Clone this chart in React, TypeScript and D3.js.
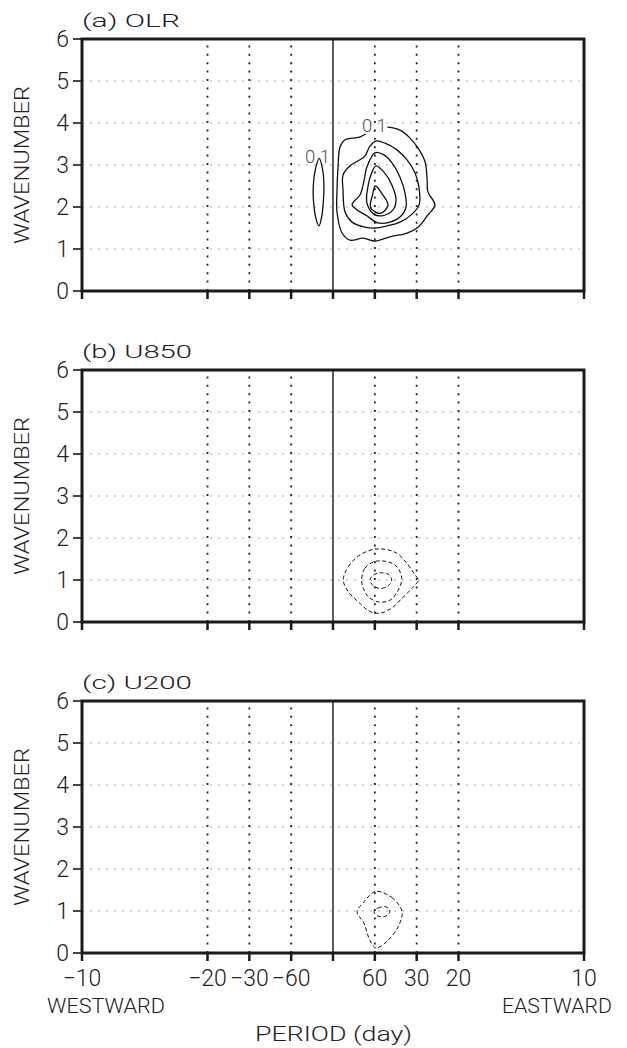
import React from 'react';
import * as d3 from 'd3';

// ---------- data ----------
const wavenumberTicks = [0, 1, 2, 3, 4, 5, 6];
const gridWavenumbers = [1, 2, 3, 4, 5];
const tickPeriods = [-10, -20, -30, -60, 60, 30, 20, 10];
const tickLabels = ['\u221210', '\u221220', '\u221230', '\u221260', '60', '30', '20', '10'];
const gridPeriods = [-20, -30, -60, 60, 30, 20];
const panelTitles = ['(a)  OLR', '(b)  U850', '(c)  U200'];

// contour lines: [frequency (cpd), zonal wavenumber]
const olrEllipse: [number, number][] = [
  [-0.0055, 3.16], [-0.0041, 2.88], [-0.0036, 2.48], [-0.0039, 2.09], [-0.0045, 1.77],
  [-0.0056, 1.55], [-0.0068, 1.73], [-0.0078, 2.17], [-0.0078, 2.56], [-0.0070, 2.9],
];
const olrC1: [number, number][] = [
  [0.0016, 2.4], [0.002, 2.95], [0.0028, 3.43], [0.0048, 3.6], [0.0108, 3.67], [0.0155, 3.83],
  [0.0187, 3.9], [0.0219, 3.9], [0.0267, 3.83], [0.0307, 3.64], [0.0339, 3.4], [0.0367, 3.07],
  [0.0375, 2.64], [0.0378, 2.36], [0.0406, 2.05], [0.0378, 1.81], [0.0339, 1.52], [0.0295, 1.38],
  [0.0227, 1.29], [0.0167, 1.19], [0.012, 1.26], [0.0068, 1.21], [0.0036, 1.38], [0.0016, 1.88],
];
const olrC2: [number, number][] = [
  [0.004, 2.4], [0.004, 2.76], [0.0068, 2.98], [0.01, 3.1], [0.0127, 3.21], [0.0147, 3.45],
  [0.0171, 3.57], [0.0207, 3.52], [0.0255, 3.36], [0.0295, 3.12], [0.0327, 2.81], [0.0343, 2.45],
  [0.0343, 2.05], [0.0315, 1.83], [0.0267, 1.64], [0.0215, 1.55], [0.0167, 1.5], [0.0127, 1.52],
  [0.0076, 1.64], [0.0048, 1.88],
];
const olrC3: [number, number][] = [
  [0.0076, 2.05], [0.0108, 2.29], [0.0124, 2.64], [0.0135, 2.95], [0.0167, 3.29], [0.0203, 3.24],
  [0.0235, 3.05], [0.0267, 2.71], [0.0287, 2.33], [0.0291, 2.0], [0.0267, 1.76], [0.0227, 1.64],
  [0.0179, 1.62], [0.0135, 1.79],
];
const olrC4: [number, number][] = [
  [0.0135, 2.1], [0.0139, 2.48], [0.0151, 2.76], [0.0171, 2.98], [0.0203, 2.83], [0.0235, 2.52],
  [0.0251, 2.17], [0.0239, 1.93], [0.0195, 1.79], [0.0163, 1.83],
];
const olrC5: [number, number][] = [
  [0.015, 1.98], [0.0158, 2.3], [0.0169, 2.5], [0.0197, 2.3], [0.0219, 2.04], [0.0189, 1.85],
];
const u850C1: [number, number][] = [
  [0.0041, 1.0], [0.0061, 1.32], [0.0108, 1.6], [0.0161, 1.73], [0.0207, 1.73], [0.0254, 1.64],
  [0.0294, 1.4], [0.0327, 1.12], [0.034, 1.0], [0.0314, 0.8], [0.0274, 0.56], [0.0234, 0.33],
  [0.0187, 0.21], [0.0147, 0.25], [0.0101, 0.48], [0.0061, 0.72],
];
const u850C2: [number, number][] = [
  [0.0114, 1.0], [0.0127, 1.28], [0.0167, 1.44], [0.0214, 1.44], [0.0254, 1.32], [0.0274, 1.04],
  [0.026, 0.76], [0.0227, 0.52], [0.018, 0.48], [0.0141, 0.6], [0.0121, 0.8],
];
const u850C3: [number, number][] = [
  [0.0147, 1.0], [0.0161, 1.12], [0.0187, 1.17], [0.022, 1.14], [0.0234, 1.0], [0.022, 0.86],
  [0.0187, 0.8], [0.0161, 0.86],
];
const u200C1: [number, number][] = [
  [0.0171, 1.47], [0.0235, 1.32], [0.0275, 0.98], [0.0259, 0.62], [0.0219, 0.3], [0.0171, 0.12],
  [0.0147, 0.3], [0.0124, 0.7], [0.0096, 0.98], [0.0124, 1.22], [0.0147, 1.38],
];
const u200C2: [number, number][] = [
  [0.0163, 0.98], [0.0179, 1.07], [0.0211, 1.1], [0.0227, 1.0], [0.0211, 0.88], [0.0179, 0.88],
];

const olrContours = [olrEllipse, olrC1, olrC2, olrC3, olrC4, olrC5];
const u850Contours = [u850C1, u850C2, u850C3];
const u200Contours = [u200C1, u200C2];

const olrLabelText = ['0.1', '0.1'];
const olrLabelFreq = [-0.0062, 0.0165];
const olrLabelWave = [3.2, 3.93];
const olrLabelMask = [false, true];

// ---------- layout ----------
const W = 627;
const H = 1048;
const LEFT = 82;
const RIGHT = 584;
const PH = 252;
const TOPS = [39, 370, 701];
const FONT = 'Roboto, "DejaVu Sans", sans-serif';
const FW = 300;

const x = d3.scaleLinear().domain([-0.1, 0.1]).range([LEFT, RIGHT]);

type Lbl = { text: string; f: number; k: number; mask: boolean };

function Panel({ idx, contours, dashed, labels, showX }: {
  idx: number; contours: [number, number][][]; dashed: boolean; labels: Lbl[]; showX: boolean;
}) {
  const top = TOPS[idx];
  const bottom = top + PH;
  const y = d3.scaleLinear().domain([0, 6]).range([bottom, top]);
  const line = d3.line<[number, number]>()
    .x((d) => x(d[0]))
    .y((d) => y(d[1]))
    .curve(d3.curveCatmullRomClosed.alpha(0.5));
  const maskId = `lblmask${idx}`;
  const cy = (top + bottom) / 2;
  return (
    <g>
      <defs>
        <mask id={maskId} maskUnits="userSpaceOnUse" x={0} y={0} width={W} height={H}>
          <rect x={0} y={0} width={W} height={H} fill="white" />
          {labels.filter((l) => l.mask).map((l, i) => (
            <rect key={i} x={x(l.f) - 13} y={y(l.k) - 8} width={26} height={16} fill="black" />
          ))}
        </mask>
      </defs>
      {/* title */}
      <text x={LEFT} y={top - 12} fontFamily={FONT} fontWeight={FW} fontSize={19} fill="#222"
        textLength={idx === 0 ? 98 : 110} lengthAdjust="spacingAndGlyphs">{panelTitles[idx]}</text>
      {/* horizontal grid */}
      {gridWavenumbers.map((k) => (
        <line key={'h' + k} x1={LEFT} x2={RIGHT} y1={y(k)} y2={y(k)} stroke="#a8a8a8"
          strokeWidth={1} strokeDasharray="2,6" />
      ))}
      {/* vertical grid */}
      {gridPeriods.map((p) => (
        <line key={'v' + p} x1={x(1 / p)} x2={x(1 / p)} y1={bottom} y2={top} stroke="#222"
          strokeWidth={1.8} strokeDasharray="2,6.4" />
      ))}
      <line x1={x(0)} x2={x(0)} y1={bottom} y2={top} stroke="#333" strokeWidth={1.6} />
      {/* contours */}
      <g mask={`url(#${maskId})`}>
        {contours.map((c, i) => (
          <path key={i} d={line(c) || ''} fill="none" stroke="#111"
            strokeWidth={dashed ? 1 : 1.3} strokeDasharray={dashed ? '4,2.5' : undefined} />
        ))}
      </g>
      {labels.map((l, i) => (
        <text key={'l' + i} x={x(l.f)} y={y(l.k) + 6.5} textAnchor="middle" fontFamily={FONT}
          fontWeight={FW} fontSize={18} fill="#555" textLength={25} lengthAdjust="spacingAndGlyphs">{l.text}</text>
      ))}
      {/* frame */}
      <rect x={LEFT} y={top} width={RIGHT - LEFT} height={PH} fill="none" stroke="#1a1a1a" strokeWidth={3} />
      {/* y ticks */}
      {wavenumberTicks.map((k) => (
        <g key={'yt' + k}>
          <line x1={LEFT - 9} x2={LEFT} y1={y(k)} y2={y(k)} stroke="#1a1a1a" strokeWidth={1.6} />
          <text x={69} y={y(k) + 8} textAnchor="end" fontFamily={FONT} fontWeight={FW} fontSize={23}
            fill="#222">{k}</text>
        </g>
      ))}
      {/* x ticks */}
      {[...tickPeriods.map((p) => 1 / p), 0].map((f, i) => (
        <line key={'xt' + i} x1={x(f)} x2={x(f)} y1={bottom} y2={bottom + 8} stroke="#1a1a1a" strokeWidth={2.5} />
      ))}
      {showX && tickPeriods.map((p, i) => (
        <text key={'xl' + i} x={x(1 / p)} y={bottom + 33} textAnchor="middle" fontFamily={FONT}
          fontWeight={FW} fontSize={23} fill="#222">{tickLabels[i]}</text>
      ))}
      {/* y label */}
      <text transform={`translate(29,${cy}) rotate(-90)`} textAnchor="middle" fontFamily={FONT}
        fontWeight={FW} fontSize={21} fill="#222" textLength={158} lengthAdjust="spacingAndGlyphs">WAVENUMBER</text>
    </g>
  );
}

export default function App() {
  const olrLabels: Lbl[] = olrLabelText.map((t, i) => ({
    text: t, f: olrLabelFreq[i], k: olrLabelWave[i], mask: olrLabelMask[i],
  }));
  return (
    <svg width={W} height={H} viewBox={`0 0 ${W} ${H}`}
      style={{ position: 'absolute', left: 0, top: 0, background: '#fff' }}>
      <rect x={0} y={0} width={W} height={H} fill="#fff" />
      <Panel idx={0} contours={olrContours} dashed={false} labels={olrLabels} showX={false} />
      <Panel idx={1} contours={u850Contours} dashed={true} labels={[]} showX={false} />
      <Panel idx={2} contours={u200Contours} dashed={true} labels={[]} showX={true} />
      <text x={47} y={1013} fontFamily={FONT} fontWeight={FW} fontSize={21} fill="#222" textLength={118}
        lengthAdjust="spacingAndGlyphs">WESTWARD</text>
      <text x={502} y={1013} fontFamily={FONT} fontWeight={FW} fontSize={21} fill="#222" textLength={110}
        lengthAdjust="spacingAndGlyphs">EASTWARD</text>
      <text x={255} y={1041} fontFamily={FONT} fontWeight={FW} fontSize={21} fill="#222" textLength={157}
        lengthAdjust="spacingAndGlyphs">PERIOD (day)</text>
    </svg>
  );
}
